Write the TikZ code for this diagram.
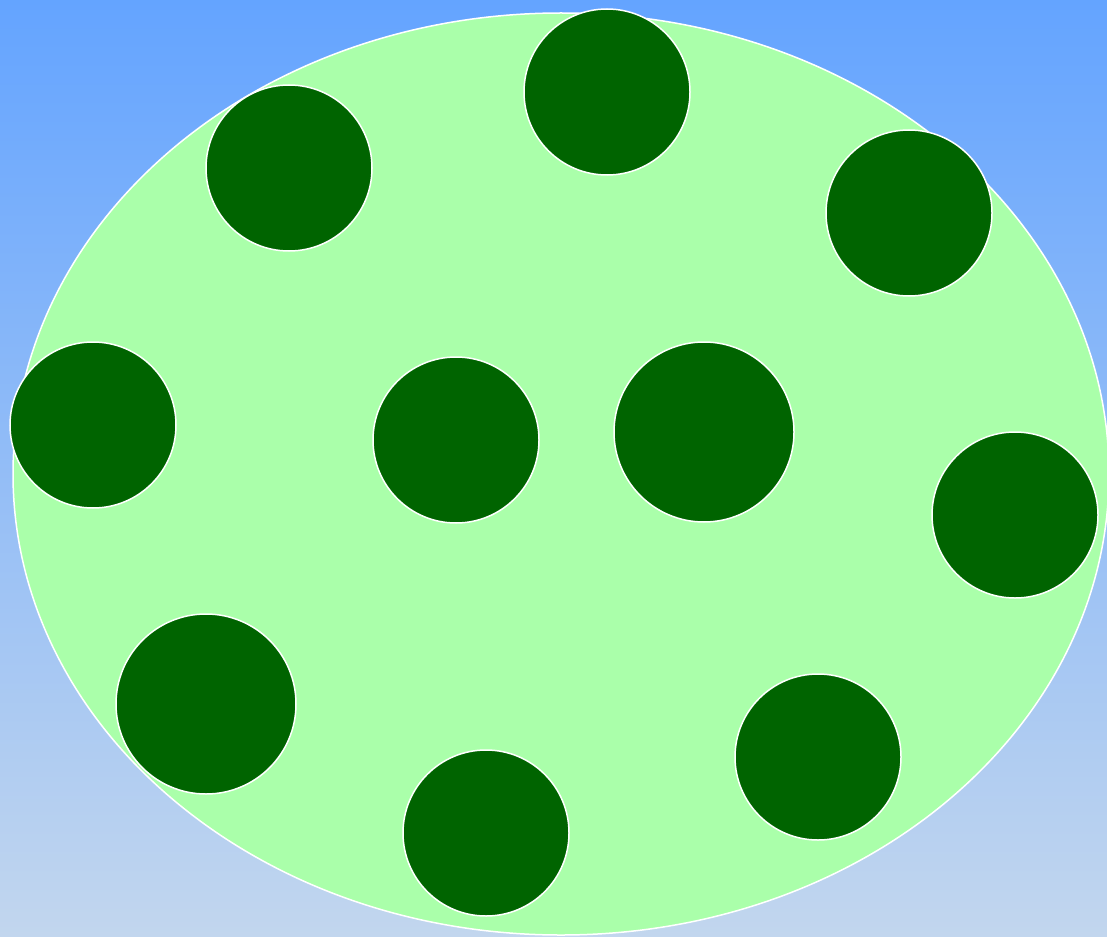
\documentclass[tikz,border=0pt]{standalone}
\usepackage{tikz}
\usetikzlibrary{shapes.geometric, positioning}
\definecolor{skytop}{RGB}{100, 164, 255}
\definecolor{skybottom}{RGB}{194, 214, 238}
\definecolor{lawn}{RGB}{170, 255, 170}
\definecolor{bushgreen}{RGB}{0, 100, 0}
\tikzset{
  pond/.style={ellipse, inner sep=0pt, minimum width=1096pt,
    minimum height=922pt, draw=white, fill=lawn, line width=1.5pt},
  bush/.style={circle, inner sep=0pt, minimum size=166pt,
    draw=white, fill=bushgreen, line width=1.5pt},
  bigbush/.style={bush, minimum size=180pt},
}

\begin{document}
\begin{tikzpicture}[x=1pt, y=-1pt]

  % ── Background ──
  \useasboundingbox (0,0) rectangle (1107,936);
  \shade[top color=skytop, bottom color=skybottom] (0,0) rectangle (1107,936);

  % ── Field ──
  \node[pond] (field) at (561,474) {};

  % ── Bushes ──
  \node[bush]    (b1)  at (607,92)  {};
  \node[bush]    (b2)  at (289,168) {};
  \node[bush]    (b3)  at (909,213) {};
  \node[bush]    (b4)  at (93,425)  {};
  \node[bush]    (b5)  at (456,440) {};
  \node[bigbush] (b6)  at (704,432) {};
  \node[bush]    (b7)  at (1015,515) {};
  \node[bigbush] (b8)  at (206,704) {};
  \node[bush]    (b9)  at (486,833) {};
  \node[bush]    (b10) at (818,757) {};

\end{tikzpicture}
\end{document}
